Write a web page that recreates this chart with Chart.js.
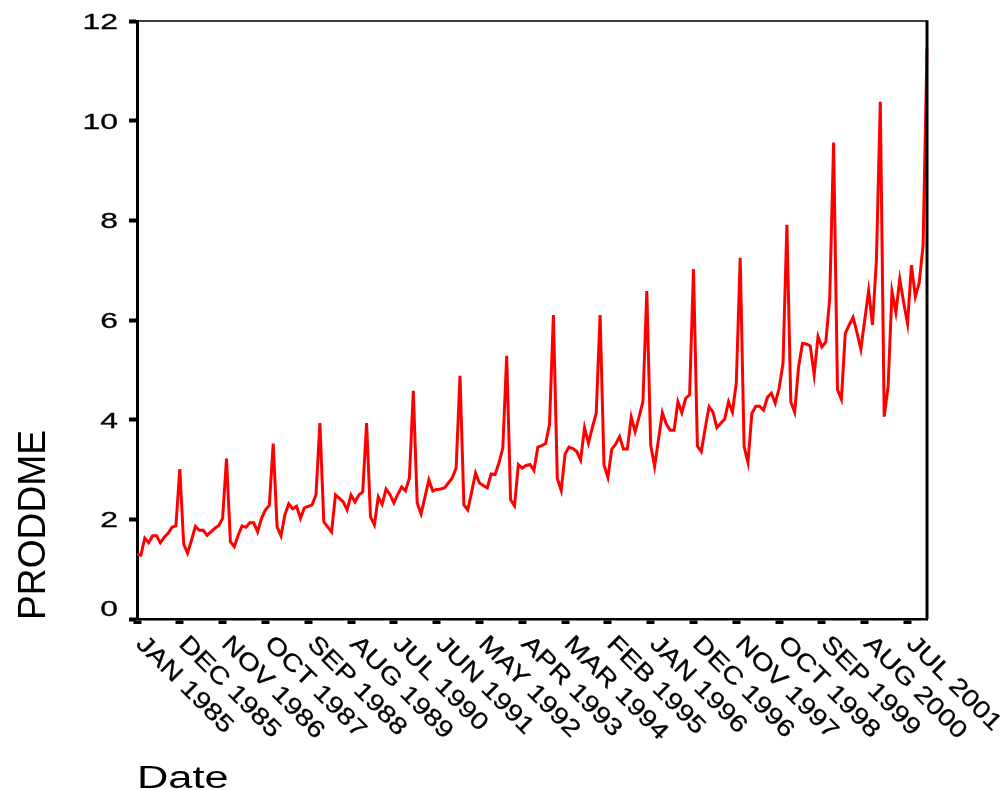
<!DOCTYPE html>
<html>
<head>
<meta charset="utf-8">
<title>PRODDME by Date</title>
<script src="https://cdn.jsdelivr.net/npm/chart.js@4"></script>
<style>
    body { margin: 0; background: #fff; }
    #wrap { width: 1008px; height: 790px; }
</style>
</head>
<body>
<div id="wrap"><canvas id="seqChart" width="1008" height="790"></canvas></div>
<script>
// Data
const monthNames = ['JAN', 'FEB', 'MAR', 'APR', 'MAY', 'JUN', 'JUL', 'AUG', 'SEP', 'OCT', 'NOV', 'DEC'];
const years = [1985, 1986, 1987, 1988, 1989, 1990, 1991, 1992, 1993, 1994, 1995, 1996, 1997, 1998, 1999, 2000, 2001];

// monthly values, one row per year (Jan..Dec)
const prodValues = [
    1.30, 1.28, 1.62, 1.53, 1.67, 1.67, 1.53, 1.64, 1.72, 1.84, 1.87, 3.01,
    1.50, 1.32, 1.58, 1.86, 1.78, 1.78, 1.68, 1.75, 1.82, 1.87, 2.02, 3.22,
    1.55, 1.45, 1.68, 1.87, 1.84, 1.93, 1.93, 1.75, 2.02, 2.19, 2.28, 3.52,
    1.85, 1.67, 2.09, 2.31, 2.21, 2.26, 2.02, 2.23, 2.26, 2.29, 2.50, 3.93,
    1.95, 1.85, 1.75, 2.49, 2.42, 2.35, 2.19, 2.49, 2.35, 2.49, 2.55, 3.93,
    2.05, 1.89, 2.45, 2.30, 2.61, 2.50, 2.33, 2.50, 2.65, 2.57, 2.83, 4.58,
    2.33, 2.11, 2.45, 2.79, 2.57, 2.60, 2.61, 2.63, 2.73, 2.83, 3.03, 4.88,
    2.29, 2.19, 2.55, 2.93, 2.73, 2.68, 2.63, 2.91, 2.90, 3.13, 3.43, 5.28,
    2.39, 2.27, 3.10, 3.03, 3.08, 3.10, 2.98, 3.45, 3.48, 3.52, 3.90, 6.10,
    2.82, 2.58, 3.31, 3.45, 3.42, 3.36, 3.19, 3.84, 3.53, 3.84, 4.13, 6.10,
    3.09, 2.84, 3.41, 3.51, 3.66, 3.41, 3.41, 4.05, 3.76, 4.05, 4.36, 6.58,
    3.49, 3.06, 3.60, 4.14, 3.91, 3.79, 3.79, 4.36, 4.14, 4.43, 4.50, 7.02,
    3.47, 3.36, 3.83, 4.26, 4.15, 3.84, 3.93, 4.01, 4.36, 4.15, 4.74, 7.25,
    3.46, 3.14, 4.13, 4.27, 4.27, 4.19, 4.45, 4.53, 4.33, 4.63, 5.13, 7.91,
    4.36, 4.15, 5.06, 5.53, 5.52, 5.48, 4.90, 5.67, 5.46, 5.56, 6.43, 9.56,
    4.60, 4.41, 5.73, 5.90, 6.05, 5.75, 5.41, 6.00, 6.59, 5.90, 7.20, 10.38,
    4.06, 4.66, 6.57, 6.15, 6.82, 6.35, 5.93, 7.10, 6.47, 6.75, 7.50, 11.45
];

// category labels, e.g. "JAN 1985"
const dateLabels = [];
years.forEach(y => monthNames.forEach(m => dateLabels.push(m + ' ' + y)));

const labelEvery = 11;   // a date label every 11 months
const yTicks = [0, 2, 4, 6, 8, 10, 12];

const FONT = '"Liberation Sans", Arial, sans-serif';

// draw text that is stretched like the old SPSS output
function stretchText(ctx, text, x, y, angle, size, sx, sy, align, dy, heavy) {
    ctx.save();
    ctx.translate(x, y);
    ctx.rotate(angle);
    ctx.scale(sx, sy);
    ctx.font = size + 'px ' + FONT;
    ctx.textAlign = align;
    ctx.textBaseline = 'alphabetic';
    ctx.fillText(text, 0, dy || 0);
    if (heavy) {
        ctx.lineWidth = 0.3;
        ctx.strokeStyle = '#000';
        ctx.strokeText(text, 0, dy || 0);
    }
    ctx.restore();
}

const spssText = {
    id: 'spssText',
    afterDraw(chart) {
        const ctx = chart.ctx;
        const area = chart.chartArea;
        const xs = chart.scales.x;
        const ys = chart.scales.y;

        ctx.save();
        // top and right frame
        ctx.strokeStyle = '#000';
        ctx.lineWidth = 1.5;
        ctx.beginPath();
        ctx.moveTo(area.left, area.top);
        ctx.lineTo(area.right, area.top);
        ctx.stroke();
        ctx.lineWidth = 3;
        ctx.beginPath();
        ctx.moveTo(area.right, area.top - 0.75);
        ctx.lineTo(area.right, area.bottom);
        ctx.stroke();

        ctx.fillStyle = '#000';

        // y tick labels
        ys.ticks.forEach(t => {
            let py = ys.getPixelForValue(t.value) + 8;
            if (t.value === 0) py -= 11;
            stretchText(ctx, String(t.value), 118, py, 0, 22, 1.45, 1, 'right', 0, true);
        });

        // x tick labels, turned 45 degrees down to the right
        xs.ticks.forEach(t => {
            const px = xs.getPixelForValue(t.value);
            stretchText(ctx, dateLabels[t.value], px + 10, 633, Math.PI / 4, 24, 1.2, 1, 'left', 17, true);
        });

        // axis titles
        stretchText(ctx, 'Date', 137, 788, 0, 31, 1.4, 1, 'left');

        ctx.save();
        ctx.font = '27px ' + FONT;
        const w = ctx.measureText('PRODDME').width;
        ctx.restore();
        stretchText(ctx, 'PRODDME', 45, 620, -Math.PI / 2, 27, 190 / w, 1.45, 'left');

        ctx.restore();
    }
};

const ctx = document.getElementById('seqChart').getContext('2d');
const seqChart = new Chart(ctx, {
    type: 'line',
    data: {
        labels: dateLabels,
        datasets: [{
            label: 'PRODDME',
            data: prodValues,
            borderColor: '#ff0000',
            borderWidth: 3,
            pointRadius: 0,
            tension: 0,
            fill: false
        }]
    },
    options: {
        responsive: false,
        animation: false,
        layout: {
            padding: { left: 129, right: 81, top: 21, bottom: 166 }
        },
        plugins: {
            legend: { display: false },
            tooltip: { enabled: false }
        },
        scales: {
            x: {
                type: 'category',
                offset: false,
                afterBuildTicks: axis => {
                    axis.ticks = axis.ticks.filter(t => t.value % labelEvery === 0);
                },
                ticks: { display: false, autoSkip: false },
                grid: {
                    drawOnChartArea: false,
                    color: '#000',
                    tickColor: '#000',
                    tickLength: 5,
                    tickWidth: 8
                },
                border: { display: true, color: '#000', width: 2.5 }
            },
            y: {
                min: 0,
                max: 12,
                afterBuildTicks: axis => {
                    axis.ticks = yTicks.map(v => ({ value: v }));
                },
                ticks: { display: false },
                grid: {
                    drawOnChartArea: false,
                    color: '#000',
                    tickColor: '#000',
                    tickLength: 8,
                    tickWidth: 4
                },
                border: { display: true, color: '#000', width: 3 }
            }
        }
    },
    plugins: [spssText]
});
</script>
</body>
</html>
